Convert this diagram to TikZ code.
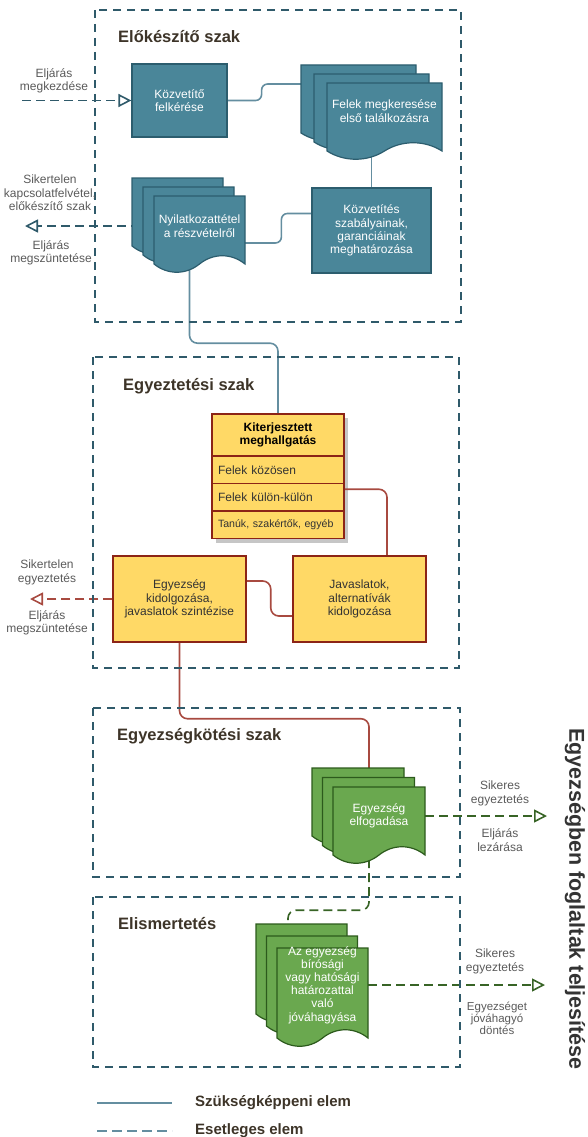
\documentclass[tikz,border=0pt]{standalone}
\usepackage{fontspec}
\setmainfont{Liberation Sans}
\usetikzlibrary{
    arrows.meta,
    positioning,
    backgrounds
}

\definecolor{sectline}{RGB}{47,90,106}
\definecolor{tealfill}{RGB}{74,134,153}
\definecolor{tealline}{RGB}{44,93,110}
\definecolor{tealconn}{RGB}{100,142,160}
\definecolor{yellowfill}{RGB}{255,217,102}
\definecolor{redline}{RGB}{140,36,22}
\definecolor{redconn}{RGB}{168,74,64}
\definecolor{greenfill}{RGB}{106,168,79}
\definecolor{greenline}{RGB}{44,90,28}
\definecolor{greenconn}{RGB}{56,100,38}
\definecolor{titlecol}{RGB}{61,52,40}
\definecolor{labelgray}{RGB}{90,90,90}
\definecolor{textdark}{RGB}{51,51,51}

\newcommand{\smallfont}{\fontsize{12}{13.3}\selectfont}

% one sheet of a document shape (style, x, y, width, height)
\newcommand{\docsheet}[5]{%
  \draw[#1] (#2,#3) -- (#2+#4,#3) -- (#2+#4,#3+#5)
    .. controls (#2+0.85*#4,#3+#5-11) and (#2+0.65*#4,#3+#5-11) .. (#2+0.5*#4,#3+#5)
    .. controls (#2+0.35*#4,#3+#5+11) and (#2+0.15*#4,#3+#5+11) .. (#2,#3+#5) -- cycle;}
% three stacked sheets (style, x, y, width, height, dx, dy)
\newcommand{\docstack}[7]{%
  \foreach \i in {0,1,2}{\docsheet{#1}{#2+#6*\i}{#3+#7*\i}{#4}{#5}}}

\tikzset{
    section/.style={draw=sectline, line width=1.4pt, dash pattern=on 8pt off 6pt},
    title/.style={anchor=west, inner sep=0pt, text=titlecol,
        font=\fontsize{16.5}{20}\selectfont\bfseries},
    tealbox/.style={draw=tealline, fill=tealfill, line width=1.2pt,
        text=white, align=center, font=\smallfont},
    tealsheet/.style={draw=tealline, fill=tealfill, line width=1.2pt},
    greensheet/.style={draw=greenline, fill=greenfill, line width=1.2pt},
    stacktext/.style={inner sep=0pt, text=white, align=center, font=\smallfont},
    yellowbox/.style={draw=redline, fill=yellowfill, line width=1.5pt,
        text=textdark, align=center, font=\smallfont},
    yrow/.style={draw=redline, fill=yellowfill, line width=1.5pt, outer sep=0pt,
        minimum width=132pt, minimum height=27.5pt, text width=120pt,
        inner xsep=6pt, align=left, text=textdark, font=\smallfont},
    lbl/.style={align=center, text=labelgray, font=\smallfont, inner sep=0pt},
    solidconn/.style={line width=1.6pt},
    dashconn/.style={line width=1.6pt, dash pattern=on 9pt off 5pt},
    endtip/.style={-{Triangle[open,length=13pt,width=13pt]}},
    legend/.style={anchor=west, inner sep=0pt, text=titlecol,
        font=\fontsize{15}{18}\selectfont\bfseries}
}

\begin{document}
\begin{tikzpicture}[x=1pt,y=-1pt]
\useasboundingbox (0,0) rectangle (587,1137);

% Phases
\draw[section] (95,10) rectangle (461,322);
\draw[section] (93,357) rectangle (459,668);
\draw[section] (93,708) rectangle (460,877);
\draw[section] (93,897) rectangle (460,1067);

\node[title] (t1) at (118,37) {Előkészítő szak};
\node[title] (t2) at (123,386) {Egyeztetési szak};
\node[title] (t3) at (117,736) {Egyezségkötési szak};
\node[title] (t4) at (118,924) {Elismertetés};

% Előkészítő szak
\node[tealbox, minimum width=95pt, minimum height=73pt] (kozvfel)
    at (179.5,100.5) {Közvetítő\\felkérése};

\docstack{tealsheet}{301}{65}{115}{68}{13}{9}
\node[stacktext, minimum width=115pt, minimum height=56pt] (felek)
    at (384.5,111) {Felek megkeresése\\első találkozásra};
\coordinate (felekin) at (301,84);

\node[tealbox, minimum width=119pt, minimum height=85pt] (kozvszab)
    at (371.5,230.5) {Közvetítés\\szabályainak,\\garanciáinak\\meghatározása};

\docstack{tealsheet}{132}{178}{91}{68}{11}{9}
\node[stacktext, minimum width=91pt, minimum height=60pt] (nyilat)
    at (199.5,226) {Nyilatkozattétel\\a részvételről};

% Egyeztetési szak
\node[yellowbox, outer sep=0pt, minimum width=132pt, minimum height=42pt,
      font=\smallfont\bfseries, text=black] (kiterj)
    at (278,435) {Kiterjesztett\\meghallgatás};
\node[yrow, below=0pt of kiterj] (kozos) {Felek közösen};
\node[yrow, below=0pt of kozos] (kulon) {Felek külön-külön};
\node[yrow, below=0pt of kulon, font=\fontsize{10.6}{12}\selectfont] (tanuk)
    {Tanúk, szakértők, egyéb};

\node[yellowbox, minimum width=133pt, minimum height=86pt] (jav)
    at (359.5,599) {Javaslatok,\\alternatívák\\kidolgozása};
\node[yellowbox, minimum width=133pt, minimum height=86pt] (egyk)
    at (179.5,599) {Egyezség\\kidolgozása,\\javaslatok szintézise};

% Egyezségkötési szak
\docstack{greensheet}{312}{768}{92}{68}{10.5}{9.5}
\node[stacktext, minimum width=92pt, minimum height=58pt] (elfog)
    at (379,816) {Egyezség\\elfogadása};
\coordinate (elfogin) at (369,768);

% Elismertetés
\docstack{greensheet}{256}{924}{91}{90}{10.5}{12}
\node[stacktext, minimum width=91pt, minimum height=74pt,
      font=\fontsize{12}{13.2}\selectfont] (jovahagy)
    at (322.5,985) {Az egyezség\\bírósági\\vagy hatósági\\határozattal\\való\\jóváhagyása};
\coordinate (jovin) at (288,924);

% Side labels
\node[lbl] (lstart) at (54,80.5) {Eljárás\\megkezdése};
\node[lbl] (lfail1) at (50,193) {Sikertelen\\kapcsolatfelvétel,\\előkészítő szak};
\node[lbl] (lend1) at (51,253) {Eljárás\\megszüntetése};
\node[lbl] (lfail2) at (47,572.5) {Sikertelen\\egyeztetés};
\node[lbl] (lend2) at (47,623) {Eljárás\\megszüntetése};
\node[lbl] (lok1) at (500,793.5) {Sikeres\\egyeztetés};
\node[lbl] (lclose) at (500,840) {Eljárás\\lezárása};
\node[lbl] (lok2) at (495,961.5) {Sikeres\\egyeztetés};
\node[lbl, font=\fontsize{11.5}{12}\selectfont] (ldecide) at (497,1018)
    {Egyezséget\\jóváhagyó\\döntés};

\node[rotate=-90, inner sep=0pt, text=textdark,
      font=\fontsize{21.5}{25}\selectfont\bfseries] (fulfil)
    at (575,899) {Egyezségben foglaltak teljesítése};

% End points of the side arrows
\coordinate (startin) at (22,100.5);
\coordinate (exit1) at (25,226);
\coordinate (exit2) at (30,599);
\coordinate (exit3) at (547,816);
\coordinate (exit4) at (545,985);

\begin{scope}[on background layer]
% shadow of the table
\fill[gray!45] ([shift={(4,4)}]kiterj.north west) rectangle ([shift={(4,4)}]tanuk.south east);

% Necessary flow
\draw[tealconn, solidconn, rounded corners=6pt]
    (kozvfel.east) -- ++(34,0) |- (felekin);
\draw[tealconn, solidconn] (felek.south -| kozvszab.north) -- (kozvszab.north);
\draw[tealconn, solidconn, rounded corners=6pt]
    ([yshift=17pt]kozvszab.west) -- ++(-30,0) |- ([yshift=-17pt]nyilat.east);
\draw[tealconn, solidconn, rounded corners=8pt]
    ([xshift=-10pt]nyilat.south) -- ++(0,87) -| (kiterj.north);
\draw[redconn, solidconn, rounded corners=8pt]
    ([yshift=8pt]kulon.east) -| ([xshift=27.5pt]jav.north);
\draw[redconn, solidconn, rounded corners=8pt]
    ([yshift=18pt]egyk.east) -- ++(24,0) |- ([yshift=-17pt]jav.west);
\draw[redconn, solidconn, rounded corners=8pt]
    (egyk.south) -- ++(0,76) -| (elfogin);

% Optional flow
\draw[greenconn, dashconn, rounded corners=8pt]
    (elfogin |- elfog.south) -- ++(0,65) -| (jovin);
\draw[sectline, dashconn, endtip] (startin) -- (kozvfel.west);
\draw[sectline, dashconn, endtip] (nyilat.west) -- (exit1);
\draw[redconn, dashconn, endtip] (egyk.west) -- (exit2);
\draw[greenconn, dashconn, endtip] (elfog.east) -- (exit3);
\draw[greenconn, dashconn, endtip] (jovahagy.east) -- (exit4);
\end{scope}

% Legend
\coordinate (legA) at (97,1103);
\coordinate (legB) at (172,1103);
\coordinate (legC) at (97,1131);
\coordinate (legD) at (172,1131);
\draw[tealconn, line width=2.6pt] (legA) -- (legB);
\draw[tealconn, line width=2.6pt, dash pattern=on 10pt off 5pt] (legC) -- (legD);
\node[legend] (legsolid) at (195,1103) {Szükségképpeni elem};
\node[legend] (legdash) at (195,1131) {Esetleges elem};

\end{tikzpicture}
\end{document}
